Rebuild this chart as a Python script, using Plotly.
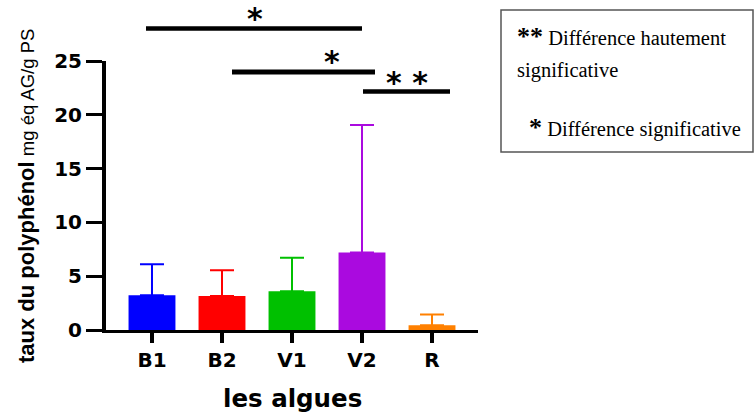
import plotly.graph_objects as go

# ---- data ----
categories = ["B1", "B2", "V1", "V2", "R"]
means = [3.22, 3.17, 3.60, 7.20, 0.45]
sd_upper = [2.88, 2.38, 3.12, 11.85, 1.00]
colors = ["#0000FF", "#FF0000", "#00C000", "#AA0ADF", "#FF8000"]
y_ticks = [0, 5, 10, 15, 20, 25]

W, H = 755, 412
L, R, T, B = 106, 277, 61, 82
PW, PH = W - L - R, H - T - B


def px(xp):
    return (xp - L) / PW


def py(yp):
    return (H - B - yp) / PH


fig = go.Figure()
for cat, m, e, c in zip(categories, means, sd_upper, colors):
    fig.add_trace(go.Bar(
        x=[cat], y=[m], width=0.67,
        marker=dict(color=c, line=dict(width=0)),
        error_y=dict(type="data", symmetric=False, array=[e], arrayminus=[0],
                     color=c, thickness=2, width=12),
        showlegend=False,
    ))

fig.update_layout(
    width=W, height=H,
    margin=dict(l=L, r=R, t=T, b=B),
    paper_bgcolor="white", plot_bgcolor="white",
    barmode="overlay",
    showlegend=False,
)
tickfont = dict(family="DejaVu Sans", size=20, color="black", weight="bold")
fig.update_xaxes(
    type="category", categoryorder="array", categoryarray=categories,
    range=[-0.657, 4.657], showgrid=False, zeroline=False,
    showline=True, linecolor="black", linewidth=3,
    ticks="outside", ticklen=10, tickwidth=4, tickcolor="black",
    tickfont=tickfont,
)
fig.update_yaxes(
    range=[0, 25], tickvals=y_ticks, showgrid=False, zeroline=False,
    showline=True, linecolor="black", linewidth=4,
    ticks="outside", ticklen=16, tickwidth=3, tickcolor="black",
    tickfont=tickfont,
)

ann = []
# axis titles
ann.append(dict(
    x=px(26), y=py(196), xref="paper", yref="paper", textangle=-90,
    xanchor="center", yanchor="middle", showarrow=False,
    text="<b>taux du polyphénol</b><span style='font-size:18.5px'> mg éq AG/g PS</span>",
    font=dict(family="Liberation Sans, Arial", size=22, color="black"),
))
ann.append(dict(
    x=px(292), y=py(398), xref="paper", yref="paper",
    xanchor="center", yanchor="middle", showarrow=False,
    text="<b>les algues</b>",
    font=dict(family="DejaVu Sans", size=24.5, color="black"),
))

# significance bars
sig_lines = [(146, 362, 28.5, 4.5), (232, 375, 72, 5), (363, 450, 91.5, 4.5)]
sig_text = [("*", 255, 14), ("*", 332, 57), ("* *", 407, 78)]
shapes = []
for x0, x1, yy, w in sig_lines:
    shapes.append(dict(type="line", xref="paper", yref="paper",
                       x0=px(x0), x1=px(x1), y0=py(yy), y1=py(yy),
                       line=dict(color="black", width=w)))
for t, xx, yy in sig_text:
    ann.append(dict(x=px(xx), y=py(yy + 4), xref="paper", yref="paper",
                    xanchor="center", yanchor="middle", showarrow=False,
                    text="<b>" + t + "</b>",
                    font=dict(family="DejaVu Sans", size=30, color="black")))

# legend box
shapes.append(dict(type="rect", xref="paper", yref="paper",
                   x0=px(501), x1=px(753), y0=py(10), y1=py(152),
                   line=dict(color="#555555", width=1.5)))
serif = dict(family="Liberation Serif, Times New Roman", size=20.5, color="black")
ann.append(dict(x=px(515), y=py(37), xref="paper", yref="paper",
                xanchor="left", yanchor="middle", showarrow=False,
                text="<span style='font-size:26px'><b>**</b></span> Différence hautement",
                font=serif))
ann.append(dict(x=px(515), y=py(70), xref="paper", yref="paper",
                xanchor="left", yanchor="middle", showarrow=False,
                text="significative", font=serif))
ann.append(dict(x=px(527), y=py(127), xref="paper", yref="paper",
                xanchor="left", yanchor="middle", showarrow=False,
                text="<span style='font-size:26px'><b>*</b></span> Différence significative",
                font=serif))

fig.update_layout(annotations=ann, shapes=shapes)
fig.write_html("out.html", config={"displayModeBar": False},
               post_script="document.body.style.margin='0';")
